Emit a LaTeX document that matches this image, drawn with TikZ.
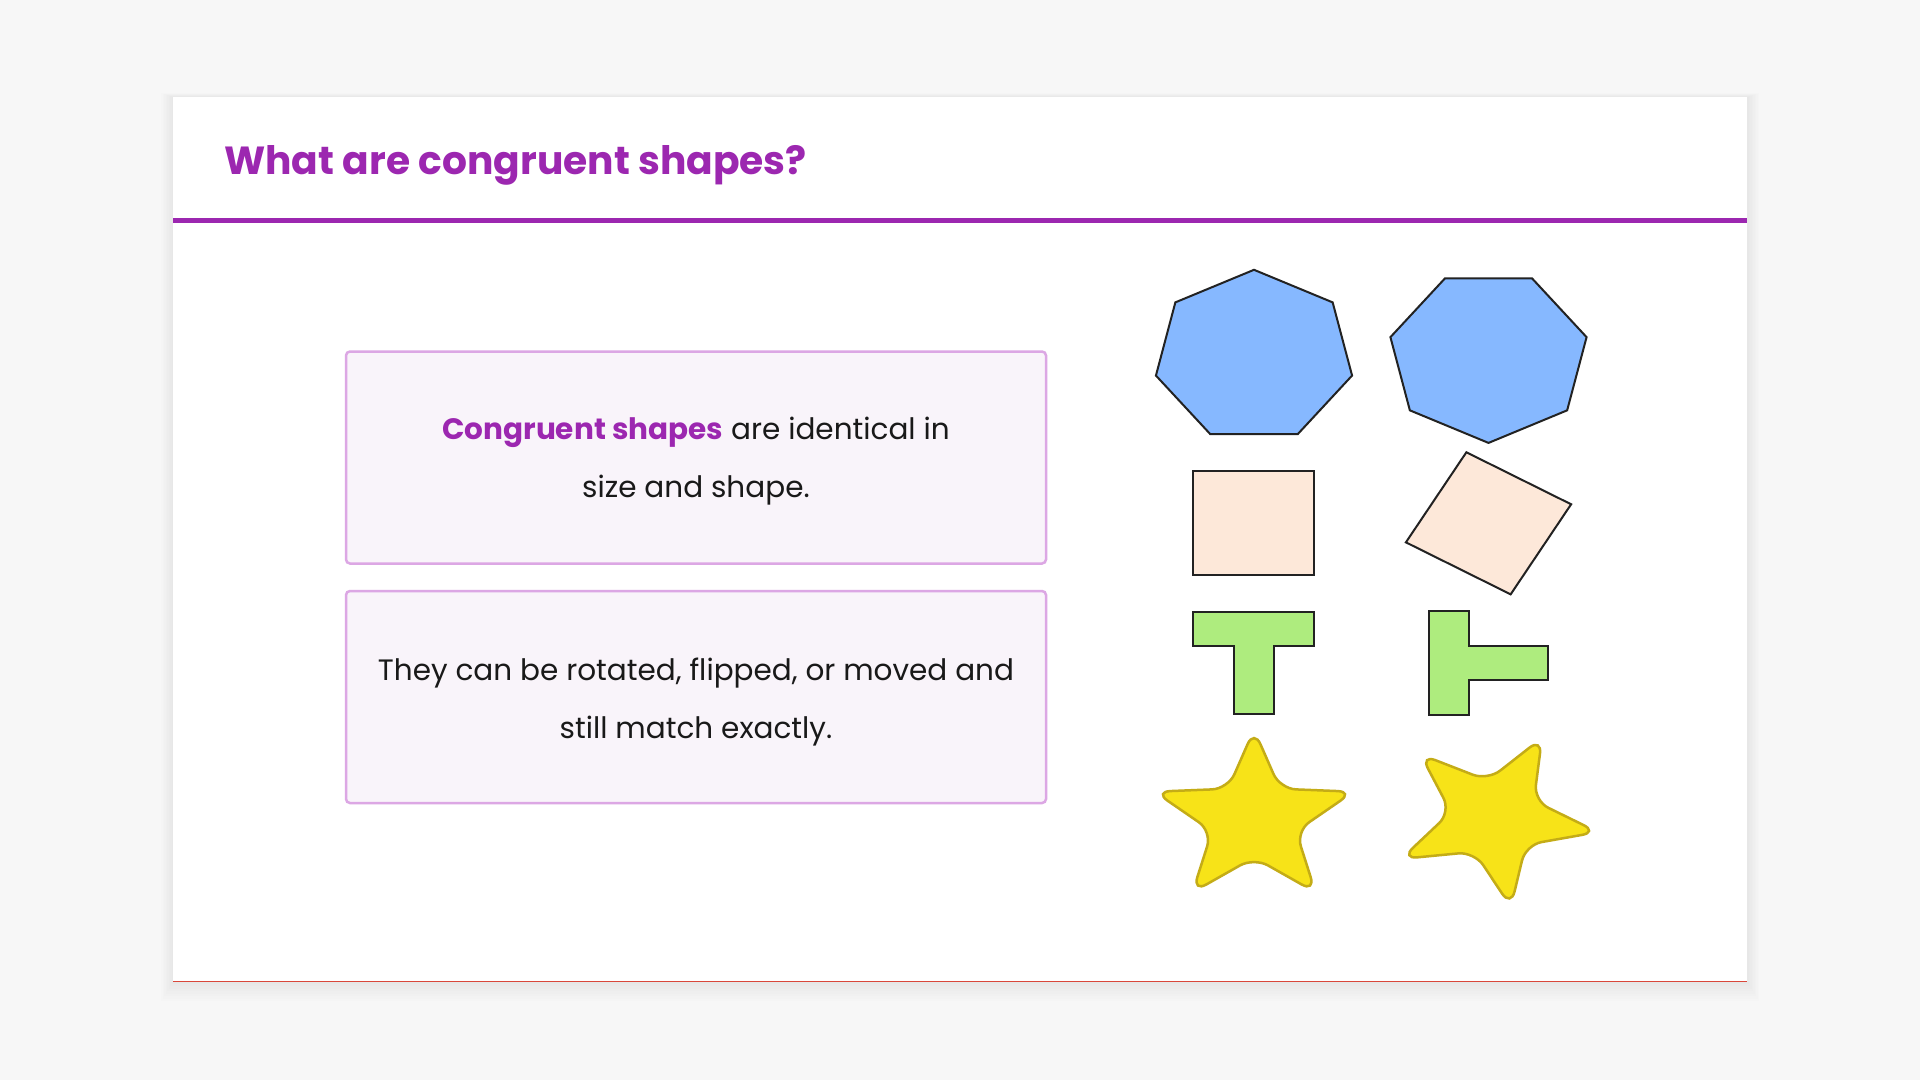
\documentclass[tikz,border=0pt]{standalone}
\usepackage{fontspec}
\setmainfont{Poppins}
\usetikzlibrary{positioning}
\definecolor{slidebg}{HTML}{F7F7F7}
\definecolor{congpurple}{HTML}{9C27B0}
\definecolor{boxline}{HTML}{DCA7E4}
\definecolor{boxfill}{HTML}{F9F4FA}
\definecolor{heptblue}{HTML}{86B8FF}
\definecolor{quadpeach}{HTML}{FDE8D9}
\definecolor{teegreen}{HTML}{AEEC7E}
\definecolor{staryellow}{HTML}{F7E318}
\definecolor{stargold}{HTML}{C4AC16}
\definecolor{shapeline}{HTML}{222222}
\definecolor{footred}{HTML}{D9483B}
\tikzset{
	outline/.style = {draw=shapeline, line width=2pt, line join=miter},
	infobox/.style = {draw=boxline, fill=boxfill, line width=2.5pt, rounded corners=4pt,
			minimum width=700pt, minimum height=212pt, inner sep=0pt},
	bodytext/.style = {align=center, text=black!90, font=\fontsize{29.5}{58}\selectfont},
	hepta/.pic = {
			\filldraw[outline, fill=heptblue] (-90:86.5) \foreach \i in {1,...,6} { -- ({-90+\i*360/7}:86.5) } -- cycle;
		},
	quad/.pic = {
			\filldraw[outline, fill=quadpeach] (-52,-52) rectangle (52,52);
		},
	tee/.pic = {
			\filldraw[outline, fill=teegreen] (-52,-51) -- (52,-51) -- (52,-17) -- (17,-17) -- (17,51)
			-- (-17,51) -- (-17,-17) -- (-52,-17) -- cycle;
		},
	fivestar/.pic = {
			\filldraw[draw=stargold, fill=staryellow, line width=2.5pt, rounded corners=16pt]
			(-90:90) \foreach \i in {0,...,3} { -- ({-54+\i*72}:38) -- ({-18+\i*72}:90) } -- (234:38) -- cycle;
		}
}

\begin{document}
\begin{tikzpicture}[x=1pt, y=-1pt]
	\pgfmathsetmacro{\k}{1.163}
	\useasboundingbox (0,0) rectangle (1920,1080);
	\fill[slidebg] (0,0) rectangle (1920,1080);
	% ====== Card ========
	\foreach \s in {1,...,8} {\fill[black, opacity=0.006] (173-1.5*\s,97-0.5*\s) rectangle (1747+1.5*\s,981+2.5*\s);}
	\fill[white] (173,97) rectangle (1747,981);
	\draw[footred, line width=1pt] (173,981) -- (1747,981);
	\node[anchor=base west, text=congpurple, font=\fontsize{39.2}{48}\selectfont\bfseries, inner sep=0pt] (title) at (224,174) {What are congruent shapes?};
	\draw[congpurple, line width=5pt] (173,220.5) -- (1747,220.5);
	% ====== Boxes ========
	\node[infobox] (defbox) at (696,457.5) {};
	\node[infobox, below=25pt of defbox] (movebox) {};
	\node[bodytext] (deftext) at ([yshift=-4pt]defbox.center) {\textcolor{congpurple}{\bfseries Congruent shapes} are identical in\\size and shape.};
	\node[bodytext] (movetext) at ([yshift=-5.5pt]movebox.center) {They can be rotated, flipped, or moved and\\still match exactly.};
	% ====== Shapes ========
	\coordinate (H1) at (1254,356.3);
	\coordinate (H2) at (1488.5,356.4);
	\coordinate (Q1) at (1253.8,523);
	\coordinate (Q2) at (1488.5,523.3);
	\coordinate (T1) at (1253.8,662.9);
	\coordinate (T2) at (1488.5,663);
	\coordinate (S1) at (1254,819.5);
	\coordinate (S2) at (1494.5,818);
	\pic[xscale=\k] at (H1) {hepta};
	\pic[xscale=\k, rotate=180] at (H2) {hepta};
	\pic[xscale=\k] at (Q1) {quad};
	\pic[xscale=\k, rotate=-30] at (Q2) {quad};
	\pic[xscale=\k] at (T1) {tee};
	\pic[xscale=\k, rotate=90] at (T2) {tee};
	\pic[xscale=\k] at (S1) {fivestar};
	\pic[xscale=\k, rotate=-27] at (S2) {fivestar};
\end{tikzpicture}
\end{document}
